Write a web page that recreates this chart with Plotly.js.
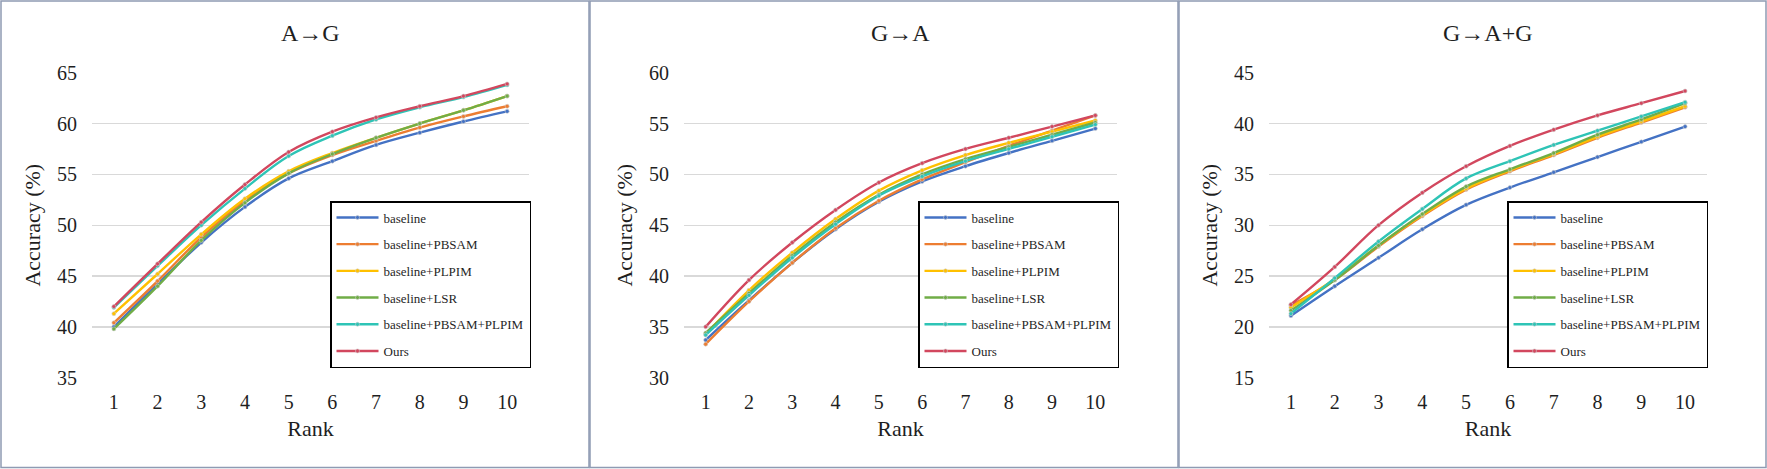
<!DOCTYPE html>
<html>
<head>
<meta charset="utf-8">
<script src="https://cdn.plot.ly/plotly-3.0.1.min.js"></script>
<style>
  html, body { margin: 0; padding: 0; background: #ffffff; }
  #chart { width: 1767px; height: 469px; }
</style>
</head>
<body>
<div id="chart"></div>
<script>
// ---------------- data ----------------
const ranks = [1, 2, 3, 4, 5, 6, 7, 8, 9, 10];
const seriesNames = ["baseline", "baseline+PBSAM", "baseline+PLPIM", "baseline+LSR", "baseline+PBSAM+PLPIM", "Ours"];
const panelTitles = ["A\u2192G", "G\u2192A", "G\u2192A+G"];
const yTickVals1 = [35, 40, 45, 50, 55, 60, 65];
const yTickVals2 = [30, 35, 40, 45, 50, 55, 60];
const yTickVals3 = [15, 20, 25, 30, 35, 40, 45];

// A -> G
const ag_baseline   = [40.0, 44.2, 48.3, 51.8, 54.6, 56.3, 57.9, 59.1, 60.2, 61.2];
const ag_pbsam      = [40.4, 44.5, 48.8, 52.4, 55.1, 56.9, 58.3, 59.6, 60.7, 61.7];
const ag_plpim      = [41.3, 45.2, 49.1, 52.6, 55.3, 57.1, 58.6, 60.0, 61.3, 62.7];
const ag_lsr        = [39.8, 44.0, 48.5, 52.2, 55.1, 57.0, 58.6, 60.0, 61.3, 62.7];
const ag_pbsamPlpim = [41.9, 46.0, 50.0, 53.6, 56.8, 58.8, 60.4, 61.6, 62.6, 63.8];
const ag_ours       = [42.0, 46.2, 50.3, 54.0, 57.2, 59.2, 60.6, 61.7, 62.7, 63.9];

// G -> A
const ga_baseline   = [33.7, 37.6, 41.3, 44.6, 47.3, 49.3, 50.8, 52.1, 53.3, 54.5];
const ga_pbsam      = [33.3, 37.5, 41.3, 44.7, 47.4, 49.5, 51.2, 52.8, 54.3, 55.8];
const ga_plpim      = [34.3, 38.6, 42.3, 45.6, 48.4, 50.4, 51.9, 53.1, 54.2, 55.3];
const ga_lsr        = [34.4, 38.3, 42.0, 45.3, 48.0, 50.0, 51.5, 52.7, 53.9, 55.1];
const ga_pbsamPlpim = [34.2, 38.1, 41.8, 45.1, 47.9, 49.8, 51.3, 52.5, 53.7, 54.9];
const ga_ours       = [35.0, 39.6, 43.3, 46.5, 49.2, 51.1, 52.5, 53.6, 54.7, 55.8];

// G -> A+G
const gag_baseline   = [21.1, 24.0, 26.8, 29.6, 32.0, 33.7, 35.2, 36.7, 38.2, 39.7];
const gag_pbsam      = [22.1, 24.6, 27.9, 30.9, 33.5, 35.3, 36.9, 38.6, 40.1, 41.6];
const gag_plpim      = [21.9, 24.7, 28.0, 31.0, 33.6, 35.4, 37.0, 38.7, 40.2, 41.7];
const gag_lsr        = [21.6, 24.6, 28.0, 31.1, 33.8, 35.5, 37.1, 38.9, 40.4, 42.0];
const gag_pbsamPlpim = [21.3, 24.8, 28.4, 31.6, 34.6, 36.3, 37.9, 39.3, 40.7, 42.1];
const gag_ours       = [22.2, 25.9, 30.0, 33.2, 35.8, 37.8, 39.4, 40.8, 42.0, 43.2];

// ---------------- styles ----------------
const colors = ["#4472C4", "#ED7D31", "#FFC000", "#70AD47", "#2EC4B6", "#D2475E"];
const W = 1767, H = 469;
const FONT = "'Liberation Serif', 'DejaVu Serif', serif";
const TXT = "#1f1f1f";

const panels = [
  { data: [ag_baseline, ag_pbsam, ag_plpim, ag_lsr, ag_pbsamPlpim, ag_ours], yr: [35, 65], yt: yTickVals1,
    px: [92, 529], leg: [330, 201] },
  { data: [ga_baseline, ga_pbsam, ga_plpim, ga_lsr, ga_pbsamPlpim, ga_ours], yr: [30, 60], yt: yTickVals2,
    px: [684, 1117], leg: [918, 201] },
  { data: [gag_baseline, gag_pbsam, gag_plpim, gag_lsr, gag_pbsamPlpim, gag_ours], yr: [15, 45], yt: yTickVals3,
    px: [1269, 1707], leg: [1507, 201] }
];

const plotTop = 72.7, plotBottom = 377.7;
const traces = [];
const layout = {
  width: W, height: H,
  margin: { l: 0, r: 0, t: 0, b: 0 },
  paper_bgcolor: "#ffffff",
  plot_bgcolor: "#ffffff",
  font: { family: FONT, color: TXT },
  showlegend: true,
  annotations: [],
  shapes: []
};

panels.forEach((p, i) => {
  const k = i + 1;
  const xa = "xaxis" + (k === 1 ? "" : k), ya = "yaxis" + (k === 1 ? "" : k);
  const xref = "x" + (k === 1 ? "" : k), yref = "y" + (k === 1 ? "" : k);
  const legName = "legend" + (k === 1 ? "" : k);
  p.data.forEach((vals, s) => {
    traces.push({
      type: "scatter", mode: "lines+markers",
      x: ranks, y: vals, name: seriesNames[s],
      xaxis: xref, yaxis: yref, legend: legName,
      legendgroup: "g" + k + "_" + s,
      line: { color: colors[s], width: 2.4, shape: "spline", smoothing: 1 },
      marker: { symbol: "circle", size: 4, color: colors[s], line: { color: "#cfcfcf", width: 0.6 } }
    });
  });
  const dom = [p.px[0] / W, p.px[1] / W];
  layout[xa] = {
    domain: dom, anchor: yref, range: [0.5, 10.5],
    tickmode: "array", tickvals: ranks, ticktext: ranks.map(String),
    showgrid: false, zeroline: false, showline: false, ticks: "",
    tickfont: { family: FONT, size: 20, color: TXT },
    ticklabelstandoff: 10,
    title: { text: "Rank", font: { family: FONT, size: 22, color: TXT }, standoff: 8 }
  };
  layout[ya] = {
    domain: [1 - plotBottom / H, 1 - plotTop / H], anchor: xref, range: p.yr,
    tickmode: "array", tickvals: p.yt,
    showgrid: true, gridcolor: "#d9d9d9", gridwidth: 1.3,
    zeroline: false, showline: false, ticks: "",
    tickfont: { family: FONT, size: 20, color: TXT },
    ticklabelstandoff: 14,
    title: { text: "Accuracy (%)", font: { family: FONT, size: 22, color: TXT }, standoff: 10 }
  };
  layout[legName] = {
    x: p.leg[0] / W, y: 1 - p.leg[1] / H, xanchor: "left", yanchor: "top",
    xref: "paper", yref: "paper",
    bgcolor: "#ffffff", bordercolor: "#000000", borderwidth: 1.5,
    font: { family: FONT, size: 13, color: TXT },
    traceorder: "grouped", tracegroupgap: 6.8, itemwidth: 42
  };
  layout.annotations.push({
    text: panelTitles[i], xref: "paper", yref: "paper",
    x: (dom[0] + dom[1]) / 2, y: 1 - 33 / H, xanchor: "center", yanchor: "middle",
    showarrow: false, font: { family: FONT, size: 24, color: TXT }
  });
  layout.shapes.push({
    type: "rect", xref: "paper", yref: "paper",
    x0: (i * 589 + 1) / W, x1: ((i + 1) * 589 - (i === 2 ? 1 : 0)) / W,
    y0: 1.5 / H, y1: 1 - 1 / H,
    line: { color: "#8e9bb3", width: 1.5 }, layer: "below"
  });
});

Plotly.newPlot("chart", traces, layout, { staticPlot: true, displayModeBar: false });
</script>
</body>
</html>
